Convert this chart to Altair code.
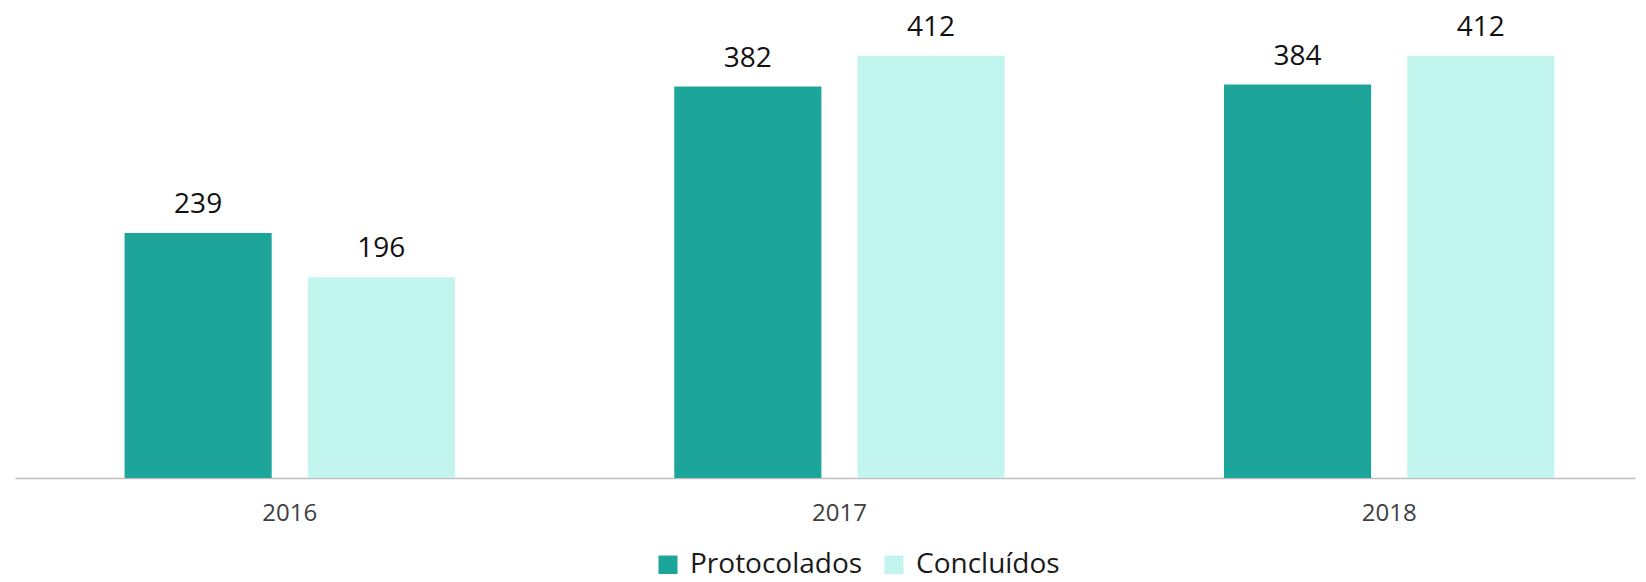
import altair as alt
import pandas as pd

years = ["2016", "2017", "2018"]
series = ["Protocolados", "Concluídos"]
protocolados = [239, 382, 384]
concluidos = [196, 412, 412]
colors = ["#1CA598", "#C3F5EF"]

rows = []
for i, y in enumerate(years):
    rows.append({"ano": y, "serie": series[0], "valor": protocolados[i]})
    rows.append({"ano": y, "serie": series[1], "valor": concluidos[i]})
df = pd.DataFrame(rows)

FONT = "Open Sans"

x_enc = alt.X("ano:N", sort=years, title=None,
              scale=alt.Scale(paddingInner=0.399, paddingOuter=0.173, align=0.576),
              axis=alt.Axis(labelAngle=0, labelFontSize=24, labelColor="#404040",
                            labelFont=FONT, ticks=False, tickSize=0, labelPadding=23,
                            domainColor="#BFBFBF", domainWidth=1.5, grid=False))
xoff_enc = alt.XOffset("serie:N", sort=series,
                       scale=alt.Scale(paddingInner=0.197, paddingOuter=0))
y_enc = alt.Y("valor:Q", title=None, scale=alt.Scale(domain=[0, 447]), axis=None)

bars = alt.Chart(df).mark_bar().encode(
    x=x_enc,
    xOffset=xoff_enc,
    y=y_enc,
    color=alt.Color("serie:N", sort=series,
                    scale=alt.Scale(domain=series, range=colors),
                    legend=alt.Legend(title=None, orient="none", direction="horizontal",
                                      legendX=639, legendY=531,
                                      symbolType="square", symbolSize=361,
                                      symbolStrokeWidth=0, labelFontSize=28,
                                      labelFont=FONT, labelColor="#1a1a1a",
                                      labelLimit=400,
                                      labelOffset=8, columnPadding=17, padding=0)),
)

labels = alt.Chart(df).mark_text(baseline="alphabetic", dy=-20, fontSize=28,
                                 font=FONT, color="#111111").encode(
    x=x_enc,
    xOffset=xoff_enc,
    y=y_enc,
    text=alt.Text("valor:Q"),
)

chart = alt.layer(bars, labels).properties(
    width=1620, height=458,
    padding={"left": 7, "top": 12, "right": 3, "bottom": 96},
    autosize=alt.AutoSizeParams(type="none"),
    background="white",
).configure_view(stroke=None, strokeWidth=0)

chart.save("out.html", embed_options={"renderer": "svg", "actions": False})
